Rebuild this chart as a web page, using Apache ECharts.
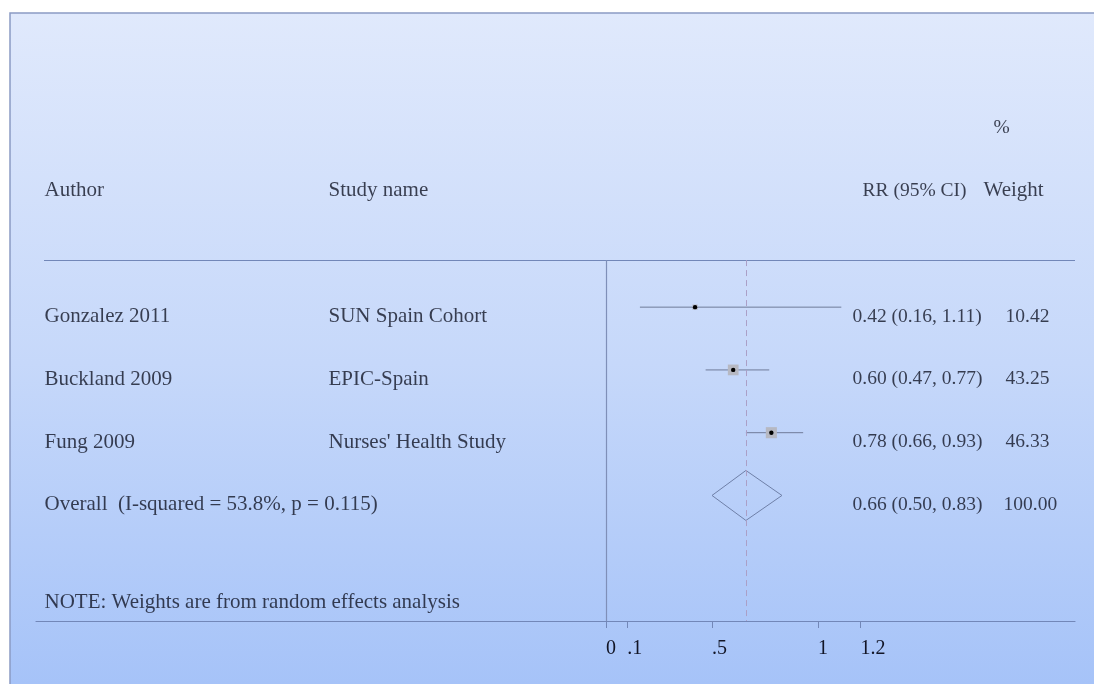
<!DOCTYPE html>
<html>
<head>
<meta charset="utf-8">
<title>Forest plot – RR (95% CI)</title>
<script src="https://cdn.jsdelivr.net/npm/echarts@6/dist/echarts.min.js"></script>
<style>
  html, body { margin: 0; padding: 0; background: #ffffff; }
  #chart { width: 1094px; height: 684px; }
</style>
</head>
<body>
<div id="chart"></div>
<script>
// ---- study data ----
const authors     = ['Gonzalez 2011', 'Buckland 2009', 'Fung 2009'];
const studyNames  = ['SUN Spain Cohort', 'EPIC-Spain', "Nurses' Health Study"];
const rr          = [0.42, 0.60, 0.78];
const lower       = [0.16, 0.47, 0.66];
const upper       = [1.11, 0.77, 0.93];
const weights     = [10.42, 43.25, 46.33];

// pooled (random effects) estimate
const overallRR     = 0.66;
const overallLower  = 0.50;
const overallUpper  = 0.83;
const overallWeight = 100.00;
const overallLabel  = 'Overall  (I-squared = 53.8%, p = 0.115)';
const noteText      = 'NOTE: Weights are from random effects analysis';

// axis ticks
const xTicks      = [0, 0.1, 0.5, 1, 1.2];
const xTickLabels = ['0', '.1', '.5', '1', '1.2'];

// ---- layout ----
const PX_ZERO = 606;          // pixel column of RR = 0
const PX_PER_UNIT = 212;      // horizontal scale
const GRID_LEFT = 36;
const GRID_RIGHT_EDGE = 1075;
const xUnit = px => (px - PX_ZERO) / PX_PER_UNIT;
const XMIN = xUnit(GRID_LEFT);
const XMAX = xUnit(GRID_RIGHT_EDGE);

const Y_MIN = -4.75, Y_MAX = 5;   // row units, inverted (row 0 = first study)
const HEADER_ROW = -0.75;         // rule under the column titles
const TITLE_ROW = -1.86;
const PERCENT_ROW = -2.85;
const NOTE_ROW = 4.71;
const TEXT_SHIFT = 0.15;          // text sits a little below its CI line

const COL_AUTHOR = xUnit(44);
const COL_STUDY  = xUnit(328);
const COL_RR     = xUnit(852);
const COL_WEIGHT = xUnit(1005);
const COL_RR_HEAD = xUnit(862);
const COL_WT_HEAD = xUnit(983);
const COL_PCT_HEAD = xUnit(993);
const HEADER_LINE_START = xUnit(44);

const BOX_SCALE = 1.63;           // box side grows with sqrt(weight)
const DIAMOND_HALF = 25;          // px

const FONT = "'Liberation Serif', 'DejaVu Serif', serif";
const TEXT_COLOR = '#121526';
const RULE_COLOR = '#7287b8';
const WORD_SIZE = 21;             // labels made of words
const NUM_SIZE = 19.5;            // numeric columns

const fmt2 = v => v.toFixed(2);
const ciText = (m, l, u) => `${fmt2(m)} (${fmt2(l)}, ${fmt2(u)})`;

// text items: [x, y] with the string as the item name
const wordItems = [];
const numItems = [];
const addText = (list, x, y, s) => list.push({ value: [x, y], name: s });

addText(numItems, COL_PCT_HEAD, PERCENT_ROW, '%');
addText(wordItems, COL_AUTHOR, TITLE_ROW, 'Author');
addText(wordItems, COL_STUDY, TITLE_ROW, 'Study name');
addText(numItems, COL_RR_HEAD, TITLE_ROW, 'RR (95% CI)');
addText(wordItems, COL_WT_HEAD, TITLE_ROW, 'Weight');
authors.forEach((a, i) => {
  const y = i + TEXT_SHIFT;
  addText(wordItems, COL_AUTHOR, y, a);
  addText(wordItems, COL_STUDY, y, studyNames[i]);
  addText(numItems, COL_RR, y, ciText(rr[i], lower[i], upper[i]));
  addText(numItems, COL_WEIGHT, y, fmt2(weights[i]));
});
const overallRow = authors.length;
addText(wordItems, COL_AUTHOR, overallRow + TEXT_SHIFT, overallLabel);
addText(numItems, COL_RR, overallRow + TEXT_SHIFT, ciText(overallRR, overallLower, overallUpper));
addText(numItems, xUnit(1003), overallRow + TEXT_SHIFT, fmt2(overallWeight));
addText(wordItems, COL_AUTHOR, NOTE_ROW, noteText);

// study marks: [lower, upper, rr, row, weight]
const studyData = rr.map((m, i) => [lower[i], upper[i], m, i, weights[i]]);
const overallData = [[overallLower, overallUpper, overallRR, overallRow]];

const textSeries = (data, size, extra) => Object.assign({
  type: 'scatter',
  silent: true,
  symbolSize: 1,
  itemStyle: { color: 'rgba(0,0,0,0)' },
  label: {
    show: true,
    position: 'right',
    distance: 0,
    formatter: '{b}',
    fontFamily: FONT,
    fontSize: size,
    color: TEXT_COLOR,
    verticalAlign: 'middle'
  },
  data: data
}, extra || {});

const chart = echarts.init(document.getElementById('chart'), null, { renderer: 'canvas' });

chart.setOption({
  animation: false,
  backgroundColor: 'transparent',
  graphic: [{
    type: 'rect',
    z: -10,
    silent: true,
    shape: { x: 10, y: 13, width: 1100, height: 700 },
    style: {
      fill: {
        type: 'linear', x: 0, y: 0, x2: 0, y2: 1,
        colorStops: [
          { offset: 0, color: '#e0e9fc' },
          { offset: 0.5, color: '#c6d8fa' },
          { offset: 1, color: '#a3c1f8' }
        ]
      },
      stroke: '#8a9bc4',
      lineWidth: 1.5
    }
  }],
  grid: { left: GRID_LEFT, right: 1094 - GRID_RIGHT_EDGE, top: 9, bottom: 63 },
  xAxis: {
    type: 'value',
    min: XMIN,
    max: XMAX,
    splitLine: { show: false },
    axisLine: { show: true, onZero: false, lineStyle: { color: RULE_COLOR, width: 1.2 } },
    axisTick: { show: true, customValues: xTicks, length: 7, lineStyle: { color: RULE_COLOR, width: 1 } },
    axisLabel: {
      customValues: xTicks,
      formatter: v => xTickLabels[xTicks.indexOf(v)],
      align: 'left',
      margin: 18,
      fontFamily: FONT,
      fontSize: 20,
      color: TEXT_COLOR
    }
  },
  yAxis: {
    type: 'value',
    inverse: true,
    min: Y_MIN,
    max: Y_MAX,
    show: false
  },
  series: [
    textSeries(wordItems, WORD_SIZE, {
      // plot rules: header rule, null line at 0, pooled estimate line
      markLine: {
        silent: true,
        symbol: 'none',
        label: { show: false },
        animation: false,
        data: [
          [{ coord: [HEADER_LINE_START, HEADER_ROW], lineStyle: { color: RULE_COLOR, width: 1.2, type: 'solid' } },
           { coord: [XMAX, HEADER_ROW] }],
          [{ coord: [0, HEADER_ROW], lineStyle: { color: '#7f8fb8', width: 1.2, type: 'solid' } },
           { coord: [0, Y_MAX] }],
          [{ coord: [overallRR, HEADER_ROW], lineStyle: { color: '#ab9fc6', width: 1, type: [6, 4] } },
           { coord: [overallRR, Y_MAX] }]
        ]
      }
    }),
    textSeries(numItems, NUM_SIZE),
    {
      // per-study CI line, weight box and point estimate
      type: 'custom',
      silent: true,
      data: studyData,
      encode: { x: [0, 1, 2], y: 3 },
      renderItem: (params, api) => {
        const row = api.value(3);
        const lo = api.coord([api.value(0), row]);
        const hi = api.coord([api.value(1), row]);
        const c = api.coord([api.value(2), row]);
        const side = BOX_SCALE * Math.sqrt(api.value(4));
        return {
          type: 'group',
          children: [
            { type: 'line', shape: { x1: lo[0], y1: lo[1], x2: hi[0], y2: hi[1] },
              style: { stroke: '#6f7b99', lineWidth: 1 } },
            { type: 'rect', shape: { x: c[0] - side / 2, y: c[1] - side / 2, width: side, height: side },
              style: { fill: '#b6b8c2', stroke: null } },
            { type: 'circle', shape: { cx: c[0], cy: c[1], r: 2.2 },
              style: { fill: '#000000' } }
          ]
        };
      }
    },
    {
      // pooled estimate diamond
      type: 'custom',
      silent: true,
      data: overallData,
      encode: { x: [0, 1, 2], y: 3 },
      renderItem: (params, api) => {
        const row = api.value(3);
        const lo = api.coord([api.value(0), row]);
        const hi = api.coord([api.value(1), row]);
        const c = api.coord([api.value(2), row]);
        return {
          type: 'polygon',
          shape: { points: [[lo[0], lo[1]], [c[0], c[1] - DIAMOND_HALF], [hi[0], hi[1]], [c[0], c[1] + DIAMOND_HALF]] },
          style: { fill: 'none', stroke: '#6f80a8', lineWidth: 1 }
        };
      }
    }
  ]
});
</script>
</body>
</html>
